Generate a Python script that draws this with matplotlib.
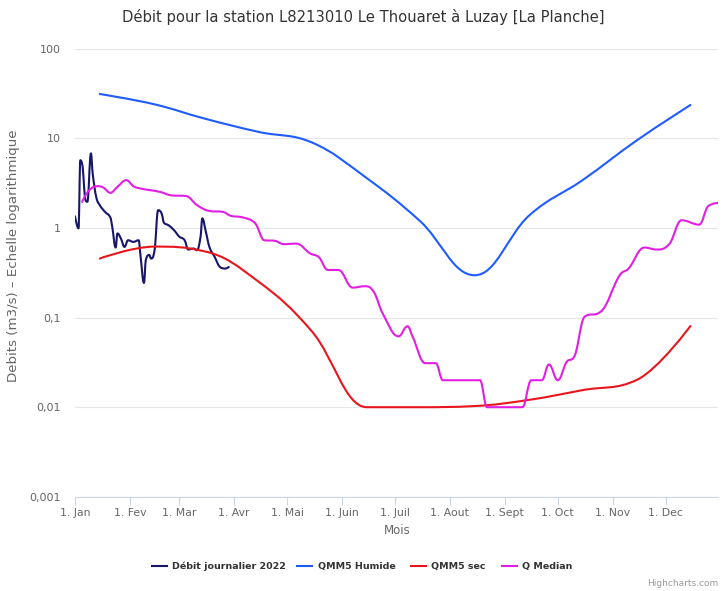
import numpy as np
import matplotlib
matplotlib.use("Agg")
import matplotlib.pyplot as plt
from matplotlib.path import Path
from matplotlib.patches import PathPatch
from matplotlib.lines import Line2D

plt.rcParams['font.family'] = ['DejaVu Sans']

# ---------------- data ----------------
month_start_days = [0, 31, 59, 90, 120, 151, 181, 212, 243, 273, 304, 334]
month_labels = ["1. Jan", "1. Fev", "1. Mar", "1. Avr", "1. Mai", "1. Juin",
                "1. Juil", "1. Aout", "1. Sept", "1. Oct", "1. Nov", "1. Dec"]

y_ticks = [0.001, 0.01, 0.1, 1, 10, 100]
y_tick_labels = ["0,001", "0,01", "0,1", "1", "10", "100"]

# Débit journalier 2022 (day of year, m3/s)
daily_days = [0, 2, 3, 4, 6, 7, 9, 10, 12, 14, 17, 20, 21, 23, 24, 26, 28, 30, 33, 36,
              37, 39, 40, 42, 43, 45, 47, 49, 50, 53, 56, 59, 62, 64, 67, 69, 71, 72,
              74, 76, 79, 82, 85, 87]
daily_vals = [1.35, 0.99, 5.7, 5.2, 2.04, 1.96, 6.8, 4.06, 2.22, 1.8, 1.51, 1.31, 1.05,
              0.605, 0.87, 0.76, 0.615, 0.73, 0.70, 0.73, 0.5, 0.244, 0.437, 0.50,
              0.456, 0.565, 1.58, 1.45, 1.17, 1.07, 0.945, 0.80, 0.73, 0.575, 0.59,
              0.565, 0.80, 1.28, 0.905, 0.615, 0.475, 0.367, 0.353, 0.367]

# QMM5 (mid-month points)
qmm_days = [14, 45, 73, 104, 134, 165, 195, 226, 257, 287, 318, 348]
qmm5_humide = [31.3, 24.0, 16.7, 11.8, 9.0, 3.6, 1.2, 0.297, 1.39, 3.42, 9.6, 23.6]
qmm5_sec = [0.456, 0.62, 0.55, 0.25, 0.070, 0.0100, 0.0100, 0.0103, 0.0121, 0.0155,
            0.0203, 0.0805]

# Q Median
median_days = [4, 8, 13, 16, 20, 24, 29, 33, 37, 48, 54, 63, 69, 76, 84, 88, 95, 102,
               107, 113, 118, 125, 133, 138, 143, 149, 157, 164, 169, 174, 183, 188,
               191, 198, 204, 208, 219, 229, 233, 243, 253, 258, 264, 268, 273, 278,
               282, 288, 297, 308, 313, 322, 329, 336, 343, 353, 358, 364]
median_vals = [1.96, 2.64, 2.93, 2.83, 2.47, 2.88, 3.42, 2.93, 2.76, 2.53, 2.32, 2.27,
               1.80, 1.55, 1.51, 1.37, 1.31, 1.12, 0.73, 0.72, 0.66, 0.67, 0.52, 0.47,
               0.34, 0.34, 0.216, 0.224, 0.193, 0.111, 0.0618, 0.080, 0.0607, 0.031,
               0.031, 0.020, 0.020, 0.020, 0.010, 0.010, 0.010, 0.020, 0.020, 0.030,
               0.020, 0.032, 0.036, 0.1016, 0.1155, 0.297, 0.352, 0.605, 0.575, 0.66,
               1.22, 1.09, 1.75, 1.91]

series = [
    ("Débit journalier 2022", daily_days, daily_vals, "#16166a"),
    ("QMM5 Humide", qmm_days, qmm5_humide, "#1f5cff"),
    ("QMM5 sec", qmm_days, qmm5_sec, "#e8161c"),
    ("Q Median", median_days, median_vals, "#e21ee2"),
]


def spline_path(xs, vals, smoothing=1.5):
    """Highcharts-style spline path, built in (x, log10 y) space."""
    xs = np.asarray(xs, float)
    ys = np.log10(np.asarray(vals, float))
    n = len(xs)
    lc = [None] * n
    rc = [None] * n
    denom = smoothing + 1
    for i in range(1, n - 1):
        px, py = xs[i], ys[i]
        lx, ly = xs[i - 1], ys[i - 1]
        nx, ny = xs[i + 1], ys[i + 1]
        lcx = (smoothing * px + lx) / denom
        lcy = (smoothing * py + ly) / denom
        rcx = (smoothing * px + nx) / denom
        rcy = (smoothing * py + ny) / denom
        if rcx != lcx:
            corr = ((rcy - lcy) * (rcx - px)) / (rcx - lcx) + py - rcy
            lcy += corr
            rcy += corr
        if lcy > ly and lcy > py:
            lcy = max(ly, py)
            rcy = 2 * py - lcy
        elif lcy < ly and lcy < py:
            lcy = min(ly, py)
            rcy = 2 * py - lcy
        if rcy > ny and rcy > py:
            rcy = max(ny, py)
            lcy = 2 * py - rcy
        elif rcy < ny and rcy < py:
            rcy = min(ny, py)
            lcy = 2 * py - rcy
        lc[i] = (lcx, lcy)
        rc[i] = (rcx, rcy)
    verts = [(xs[0], 10 ** ys[0])]
    codes = [Path.MOVETO]
    for i in range(1, n):
        c1 = rc[i - 1] if rc[i - 1] is not None else (xs[i - 1], ys[i - 1])
        c2 = lc[i] if lc[i] is not None else (xs[i], ys[i])
        verts += [(c1[0], 10 ** c1[1]), (c2[0], 10 ** c2[1]), (xs[i], 10 ** ys[i])]
        codes += [Path.CURVE4] * 3
    return Path(verts, codes)


W, H = 728, 591
fig = plt.figure(figsize=(W / 100, H / 100), dpi=100)
fig.patch.set_facecolor("white")

ax_l, ax_r, ax_t, ax_b = 75, 718, 48.8, 496.8
ax = fig.add_axes([ax_l / W, 1 - ax_b / H, (ax_r - ax_l) / W, (ax_b - ax_t) / H])
ax.set_yscale("log")
ax.set_xlim(0, 363.6)
ax.set_ylim(0.001, 100)

for name, d, v, c in series:
    p = spline_path(d, v)
    patch = PathPatch(p, fill=False, edgecolor=c, lw=1.5, capstyle="round",
                      joinstyle="round", transform=ax.transData, zorder=3)
    ax.add_patch(patch)

# grid & axes styling
ax.set_yticks(y_ticks)
ax.set_yticklabels(y_tick_labels)
ax.yaxis.set_minor_locator(matplotlib.ticker.NullLocator())
ax.grid(axis="y", color="#e6e6e6", lw=0.8, zorder=0)
ax.tick_params(axis="y", length=0, pad=10.5, labelsize=8, labelcolor="#666666")
ax.set_xticks(month_start_days)
ax.set_xticklabels(month_labels)
ax.tick_params(axis="x", length=6, width=0.8, color="#ccd6eb", pad=2,
               labelsize=7.8, labelcolor="#666666")
for s in ["left", "right", "top"]:
    ax.spines[s].set_visible(False)
ax.spines["bottom"].set_color("#ccd6eb")
ax.spines["bottom"].set_linewidth(0.8)
ax.set_axisbelow(True)

# titles
fig.text(363 / W, 1 - 17 / H, "Débit pour la station L8213010 Le Thouaret à Luzay [La Planche]",
         ha="center", va="center", fontsize=10.6, color="#333333")
fig.text(397 / W, 1 - 530 / H, "Mois", ha="center", va="center", fontsize=8.5, color="#666666")
fig.text(14 / W, 1 - 256 / H, "Debits (m3/s) – Echelle logarithmique", ha="center", va="center",
         rotation=90, fontsize=9.6, color="#666666")

# legend (manual)
leg_y = 1 - 566 / H
leg_items = [(152, 172), (297, 318), (411, 431), (502, 522)]
for (sx, tx), (name, d, v, c) in zip(leg_items, series):
    fig.add_artist(Line2D([sx / W, (sx + 15) / W], [leg_y, leg_y], color=c, lw=1.5))
    fig.text(tx / W, leg_y, name, ha="left", va="center", fontsize=6.8,
             fontweight="bold", color="#333333")

fig.text(718 / W, 1 - 583 / H, "Highcharts.com", ha="right", va="center",
         fontsize=6.5, color="#999999")

fig.savefig("out.png", dpi=100, facecolor="white")
